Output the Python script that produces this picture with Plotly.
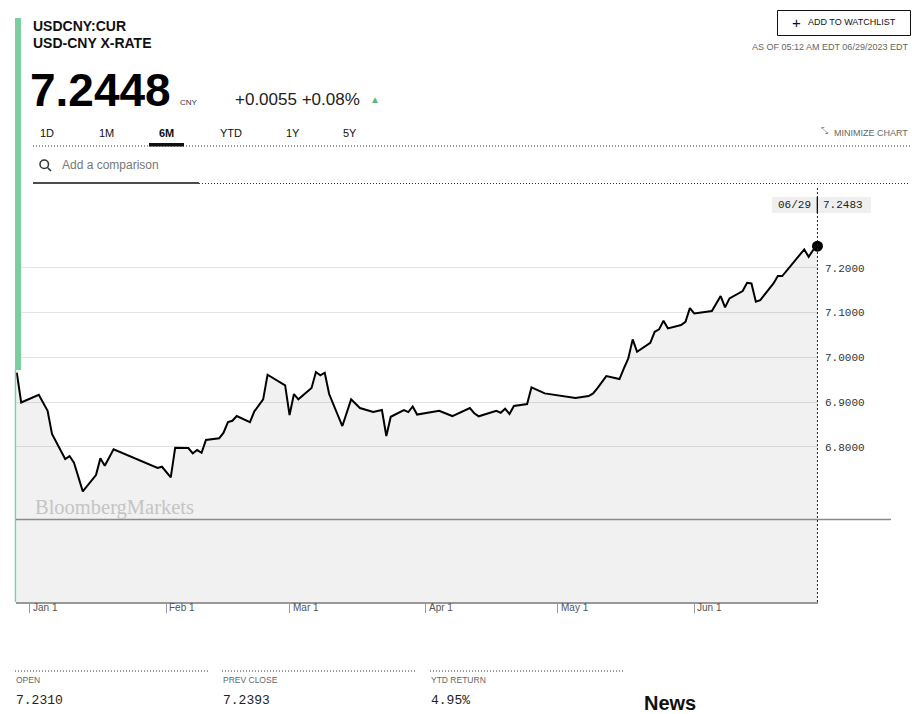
import plotly.graph_objects as go

# ---------------- data ----------------
dates = [
    "2022-12-29", "2022-12-30", "2023-01-03", "2023-01-05", "2023-01-06",
    "2023-01-09", "2023-01-10", "2023-01-11", "2023-01-13", "2023-01-16",
    "2023-01-17", "2023-01-18", "2023-01-20", "2023-01-30", "2023-01-31",
    "2023-02-02", "2023-02-03", "2023-02-06", "2023-02-07", "2023-02-08",
    "2023-02-09", "2023-02-10", "2023-02-13", "2023-02-14", "2023-02-15",
    "2023-02-16", "2023-02-17", "2023-02-20", "2023-02-21", "2023-02-23",
    "2023-02-24", "2023-02-28", "2023-03-01", "2023-03-02", "2023-03-03",
    "2023-03-06", "2023-03-07", "2023-03-08", "2023-03-09", "2023-03-10",
    "2023-03-13", "2023-03-15", "2023-03-17", "2023-03-20", "2023-03-22",
    "2023-03-23", "2023-03-24", "2023-03-27", "2023-03-28", "2023-03-29",
    "2023-03-30", "2023-04-04", "2023-04-07", "2023-04-11", "2023-04-12",
    "2023-04-13", "2023-04-17", "2023-04-18", "2023-04-19", "2023-04-20",
    "2023-04-21", "2023-04-24", "2023-04-25", "2023-04-28", "2023-05-05",
    "2023-05-08", "2023-05-09", "2023-05-10", "2023-05-12", "2023-05-15",
    "2023-05-16", "2023-05-17", "2023-05-18", "2023-05-19", "2023-05-22",
    "2023-05-23", "2023-05-24", "2023-05-25", "2023-05-26", "2023-05-29",
    "2023-05-30", "2023-05-31", "2023-06-01", "2023-06-05", "2023-06-07",
    "2023-06-08", "2023-06-09", "2023-06-12", "2023-06-13", "2023-06-14",
    "2023-06-15", "2023-06-16", "2023-06-19", "2023-06-20", "2023-06-21",
    "2023-06-26", "2023-06-27", "2023-06-28", "2023-06-29",
]
values = [
    6.9654, 6.8990, 6.9162, 6.8804, 6.8284,
    6.7725, 6.7792, 6.7642, 6.7003, 6.7368,
    6.7740, 6.7575, 6.7942, 6.7524, 6.7553,
    6.7316, 6.7978, 6.7971, 6.7852, 6.7926,
    6.7866, 6.8150, 6.8188, 6.8313, 6.8552,
    6.8581, 6.8686, 6.8552, 6.8791, 6.9060,
    6.9609, 6.9372, 6.8708, 6.9178, 6.9060,
    6.9312, 6.9669, 6.9596, 6.9654, 6.9178,
    6.8463, 6.9060, 6.8865, 6.8775, 6.8820,
    6.8240, 6.8670, 6.8820, 6.8775, 6.8900,
    6.8720, 6.8804, 6.8686, 6.8865, 6.8746,
    6.8680, 6.8804, 6.8760, 6.8850, 6.8730,
    6.8910, 6.8954, 6.9327, 6.9193, 6.9088,
    6.9133, 6.9193, 6.9312, 6.9580, 6.9513,
    6.9752, 6.9975, 7.0400, 7.0123, 7.0324,
    7.0570, 7.0623, 7.0816, 7.0646, 7.0720,
    7.0793, 7.1100, 7.0980, 7.1032, 7.1368,
    7.1115, 7.1316, 7.1480, 7.1665, 7.1650,
    7.1240, 7.1278, 7.1650, 7.1815, 7.1815,
    7.2411, 7.2246, 7.2393, 7.2483,
]
y_ticks = [6.8, 6.9, 7.0, 7.1, 7.2]
y_tick_labels = ["6.8000", "6.9000", "7.0000", "7.1000", "7.2000"]
month_ticks = ["2023-01-01", "2023-02-01", "2023-03-01", "2023-04-01", "2023-05-01", "2023-06-01"]
month_labels = ["Jan 1", "Feb 1", "Mar 1", "Apr 1", "May 1", "Jun 1"]
range_tabs = ["1D", "1M", "6M", "YTD", "1Y", "5Y"]
stat_labels = ["OPEN", "PREV CLOSE", "YTD RETURN"]
stat_values = ["7.2310", "7.2393", "4.95%"]

# ---------------- geometry helpers ----------------
W, H = 924, 714
L, R, T, B = 16, 818, 185, 602


def X(px):
    return (px - L) / (R - L)


def Y(py):
    return (B - py) / (B - T)


SANS = "Liberation Sans, Arial, sans-serif"
MONO = "Liberation Mono, Courier New, monospace"
SERIF = "Liberation Serif, DejaVu Serif, serif"
GREEN = "#7ccf9c"
DOTS = "1px,2px"

fig = go.Figure()
fig.add_trace(go.Scatter(
    x=dates, y=values, mode="lines",
    line=dict(color="#000000", width=2),
    fill="tozeroy", fillcolor="rgba(0,0,0,0.055)",
    hoverinfo="skip", showlegend=False,
))
fig.add_trace(go.Scatter(
    x=[dates[-1]], y=[values[-1]], mode="markers",
    marker=dict(color="#000000", size=11),
    cliponaxis=False,
    hoverinfo="skip", showlegend=False,
))

shapes = []
# left green bar + thin green line
shapes.append(dict(type="rect", xref="paper", yref="paper", x0=X(15), x1=X(21), y0=Y(370), y1=Y(18),
                   fillcolor=GREEN, line=dict(width=0), layer="above"))
shapes.append(dict(type="line", xref="paper", yref="paper", x0=X(15.5), x1=X(15.5), y0=Y(602), y1=Y(370),
                   line=dict(color=GREEN, width=1.5), layer="above"))
# watchlist button
shapes.append(dict(type="rect", xref="paper", yref="paper", x0=X(777.5), x1=X(910.5), y0=Y(35.5), y1=Y(10.5),
                   fillcolor="white", line=dict(color="#111", width=1)))
# tab dotted line and 6M underline
shapes.append(dict(type="line", xref="paper", yref="paper", x0=X(33), x1=X(910), y0=Y(146), y1=Y(146),
                   line=dict(color="#333", width=1, dash=DOTS)))
shapes.append(dict(type="rect", xref="paper", yref="paper", x0=X(149), x1=X(184), y0=Y(146.5), y1=Y(143),
                   fillcolor="#111", line=dict(width=0)))
# comparison input underline
shapes.append(dict(type="line", xref="paper", yref="paper", x0=X(199), x1=X(910), y0=Y(183.5), y1=Y(183.5),
                   line=dict(color="#333", width=1, dash=DOTS)))
shapes.append(dict(type="line", xref="paper", yref="paper", x0=X(33), x1=X(199), y0=Y(183), y1=Y(183),
                   line=dict(color="#111", width=1.5)))
# magnifier icon
shapes.append(dict(type="circle", xref="paper", yref="paper", x0=X(40), x1=X(48.5), y0=Y(168.5), y1=Y(160),
                   line=dict(color="#333", width=1.5)))
shapes.append(dict(type="line", xref="paper", yref="paper", x0=X(47.5), x1=X(51), y0=Y(167.5), y1=Y(171),
                   line=dict(color="#333", width=1.5)))
# horizontal grey reference line (extends past plot)
shapes.append(dict(type="line", xref="paper", yref="paper", x0=X(16), x1=X(891), y0=Y(519.5), y1=Y(519.5),
                   line=dict(color="#8a8a8a", width=1.5), layer="above"))
# price box at top right
shapes.append(dict(type="rect", xref="paper", yref="paper", x0=X(772), x1=X(871), y0=Y(213), y1=Y(197),
                   fillcolor="#efefef", line=dict(width=0), layer="above"))
# vertical dotted crosshair at last point
shapes.append(dict(type="line", xref="x", yref="paper", x0=dates[-1], x1=dates[-1], y0=0, y1=Y(188),
                   line=dict(color="#222", width=1, dash="2px,2px"), layer="above"))
shapes.append(dict(type="line", xref="x", yref="paper", x0=dates[-1], x1=dates[-1], y0=Y(213), y1=Y(197),
                   line=dict(color="#111", width=1.5), layer="above"))
# bottom stat dotted lines
for x0, x1 in [(15, 208), (222, 416), (430, 624)]:
    shapes.append(dict(type="line", xref="paper", yref="paper", x0=X(x0), x1=X(x1), y0=Y(671), y1=Y(671),
                       line=dict(color="#333", width=1, dash=DOTS)))

ann = []


def text(px, py, s, size, color="#111", family=SANS, xanchor="left", xref="paper", xval=None, xshift=0):
    ann.append(dict(
        x=X(px) if xval is None else xval, xref=xref, y=Y(py), yref="paper",
        text=s, showarrow=False, xanchor=xanchor, yanchor="middle", xshift=xshift,
        font=dict(size=size, color=color, family=family),
    ))


text(31, 26, "<b>USDCNY:CUR</b>", 14)
text(31, 43, "<b>USD-CNY X-RATE</b>", 14)
text(28, 90, "<b>7.2448</b>", 46, color="#000")
text(178, 103, "CNY", 8, color="#333")
text(233, 100, "+0.0055 +0.08%", 17, color="#222")
text(368, 100, "▲", 10, color="#5cb87a")

tab_x = [47, 106, 166, 231, 293, 350]
for lbl, tx in zip(range_tabs, tab_x):
    s = f"<b>{lbl}</b>" if lbl == "6M" else lbl
    text(tx, 133, s, 11, xanchor="center")

text(910, 133, "MINIMIZE CHART", 9, color="#666", xanchor="right")
text(824, 131, "⤡", 9, color="#888", xanchor="center")
text(796, 22, "+", 15, color="#111", xanchor="center")
text(806, 22, "ADD TO WATCHLIST", 9, color="#111")
text(910, 47, "AS OF 05:12 AM EDT 06/29/2023 EDT", 9, color="#666", xanchor="right")
text(60, 165, "Add a comparison", 12, color="#777")

# watermark
text(33, 507, "BloombergMarkets", 20.5, color="#c4c4c4", family=SERIF)

# price box
last_label = dates[-1][5:7] + "/" + dates[-1][8:10]
text(0, 205, last_label, 11, color="#222", family=MONO, xanchor="right", xref="x", xval=dates[-1], xshift=-4)
text(0, 205, f"{values[-1]:.4f}", 11, color="#222", family=MONO, xanchor="left", xref="x", xval=dates[-1], xshift=4)

# month labels
for d, lbl in zip(month_ticks, month_labels):
    text(0, 607, lbl, 10, color="#555", xanchor="left", xref="x", xval=d, xshift=1)

# bottom stats
for sx, sl, sv in zip([15, 222, 430], stat_labels, stat_values):
    text(sx - 1, 680, sl, 8.5, color="#666")
    text(sx - 1, 700, sv, 13, color="#222", family=MONO)
text(642, 703, "<b>News</b>", 20, color="#111")

fig.update_layout(
    width=W, height=H, autosize=False,
    margin=dict(l=L, r=W - R, t=T, b=H - B, pad=0),
    paper_bgcolor="white", plot_bgcolor="white",
    showlegend=False, hovermode=False,
    shapes=shapes, annotations=ann,
    xaxis=dict(
        type="date", range=["2022-12-28 19:40", "2023-06-29 03:00"],
        tickvals=month_ticks, showticklabels=False,
        ticks="outside", ticklen=9, tickcolor="#999", tickwidth=1,
        showgrid=False, zeroline=False,
        showline=True, linecolor="#999", linewidth=2, fixedrange=True,
    ),
    yaxis=dict(
        side="right", range=[6.453, 7.385],
        tickvals=y_ticks, ticktext=y_tick_labels,
        tickfont=dict(family=MONO, size=11, color="#333"),
        ticks="", ticklabelstandoff=6,
        showgrid=True, gridcolor="#e3e3e3", gridwidth=1,
        zeroline=False, showline=False, fixedrange=True,
    ),
)

fig.write_html(
    "out.html",
    config={"displayModeBar": False},
    post_script="document.body.style.margin='0';document.body.style.overflow='hidden';",
)
